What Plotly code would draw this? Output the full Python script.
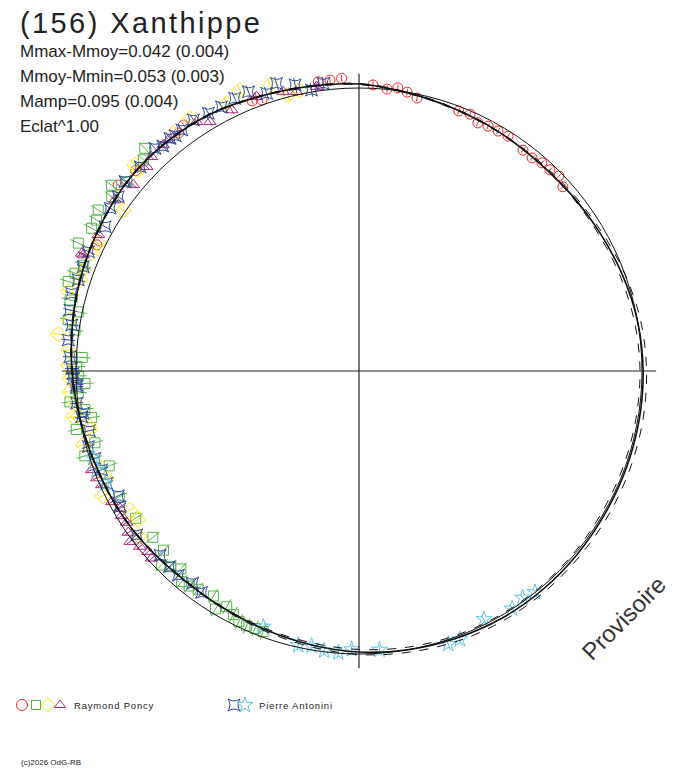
import numpy as np
import plotly.graph_objects as go

# ---------------- data (phase angle in degrees, relative radius) ----------------
# fitted light curve (solid) and its envelope (dashed)
fit_deg = [0, 10, 20, 30, 40, 50, 60, 70, 80, 90, 100, 110, 120, 130, 140, 150, 160, 170,
           180, 190, 200, 210, 220, 230, 240, 250, 260, 270, 280, 290, 300, 310, 320, 330, 340, 350]
fit_r = [1.014, 0.998, 0.986, 0.979, 0.973, 0.975, 0.981, 0.991, 1.000, 1.004, 1.005, 1.005,
         1.005, 1.007, 1.009, 1.009, 1.005, 1.000, 0.993, 0.982, 0.972, 0.965, 0.963, 0.972,
         0.981, 0.988, 1.000, 1.014, 1.027, 1.039, 1.049, 1.058, 1.057, 1.049, 1.032, 1.021]
env_hi = [1.016, 1.000, 0.988, 0.980, 0.977, 0.981, 0.988, 1.000, 1.011, 1.016, 1.018, 1.018,
          1.018, 1.018, 1.019, 1.019, 1.016, 1.009, 1.002, 0.989, 0.977, 0.968, 0.965, 0.974,
          0.983, 0.990, 1.002, 1.016, 1.029, 1.041, 1.051, 1.060, 1.059, 1.051, 1.034, 1.023]
env_lo = [1.012, 0.996, 0.984, 0.977, 0.972, 0.972, 0.975, 0.982, 0.989, 0.993, 0.993, 0.993,
          0.993, 0.995, 0.996, 0.996, 0.995, 0.991, 0.984, 0.975, 0.968, 0.963, 0.961, 0.970,
          0.979, 0.986, 0.998, 1.012, 1.025, 1.037, 1.047, 1.056, 1.055, 1.047, 1.030, 1.019]

# Raymond Poncy - session 1 (red circles)
red_deg = [2.8, 5.7, 7.8, 9.8, 12.0, 21.0, 23.4, 25.6, 27.8, 30.1, 32.4, 36.6, 39.1, 41.3, 43.5,
           45.7, 47.9, 352.0, 354.3, 356.6, 340.3, 338.4, 324.5, 322.8, 311.9, 307.7, 295.7]
red_r = [1.012, 1.001, 1.010, 1.000, 0.986, 0.984, 0.989, 0.972, 0.978, 0.980, 0.983, 0.972,
         0.970, 0.979, 0.980, 0.987, 0.971, 1.032, 1.033, 1.036, 1.017, 1.026, 1.068, 1.055,
         1.060, 1.075, 1.028]

# Raymond Poncy - session 2 (green squares)
green_deg = [316.1, 314.4, 309.2, 306.9, 305.2, 301.7, 299.9, 298.1, 294.5, 291.0, 289.0, 287.1,
             283.8, 281.9, 280.0, 278.2, 272.8, 270.9, 269.0, 267.4, 265.5, 263.9, 262.0, 260.1,
             258.3, 254.8, 252.8, 249.2, 242.3, 236.6, 231.1, 227.5, 225.5, 223.9, 222.0, 220.1,
             218.3, 216.4, 212.9, 211.1, 209.3, 207.3, 205.6, 203.8, 202.0, 200.2]
green_r = [1.092, 1.066, 1.059, 1.093, 1.069, 1.083, 1.070, 1.071, 1.090, 1.044, 1.061, 1.075,
           1.052, 1.014, 1.043, 1.014, 0.979, 0.998, 0.992, 0.969, 0.995, 1.027, 0.978, 0.959,
           1.020, 0.967, 1.014, 0.944, 0.957, 0.945, 0.936, 0.937, 0.978, 0.960, 0.941, 0.973,
           0.968, 0.958, 0.947, 0.982, 0.955, 0.968, 0.982, 0.984, 0.981, 0.981]

# Raymond Poncy - session 3 (yellow diamonds)
yellow_deg = [337.0, 342.7, 345.6, 326.2, 322.0, 333.7, 348.1, 312.6, 304.3, 296.1, 293.8, 312.3,
              290.1, 288.1, 285.3, 280.0, 277.0, 274.1, 271.2, 269.3, 265.9, 263.5, 260.8, 258.3,
              260.9, 255.0, 257.6, 250.7, 247.0, 244.0, 238.7, 236.1, 233.0, 268.5]
yellow_r = [1.078, 1.058, 1.007, 1.074, 1.066, 1.055, 1.014, 1.075, 1.008, 1.026, 1.032, 1.055,
            1.037, 1.037, 1.065, 1.037, 1.071, 1.030, 1.028, 1.016, 1.024, 1.010, 1.005, 0.971,
            1.022, 1.009, 0.973, 0.982, 0.969, 1.008, 0.947, 0.940, 0.972, 1.022]

# Raymond Poncy - session 4 (magenta triangles)
mag_deg = [334.0, 329.1, 326.9, 339.5, 344.8, 347.4, 351.5, 319.1, 313.9, 309.5, 305.0, 297.6,
           293.0, 315.9, 320.5, 292.8, 249.7, 247.8, 246.1, 242.1, 238.6, 236.9, 235.0, 233.3,
           231.3, 229.4, 227.9, 240.1]
mag_r = [1.026, 1.026, 1.051, 1.035, 1.023, 1.011, 1.016, 1.057, 1.041, 1.034, 1.053, 1.039,
         1.064, 1.054, 1.058, 1.057, 1.007, 1.001, 0.994, 0.988, 0.983, 0.980, 0.995, 1.009,
         0.992, 0.981, 0.987, 0.974]

# Pierre Antonini - session 1 (blue star-squares)
blue_deg = [344.0, 347.4, 352.9, 350.4, 341.6, 338.4, 335.5, 332.5, 329.7, 326.6, 323.7, 320.9,
            318.9, 317.5, 313.0, 309.0, 305.9, 303.2, 299.6, 293.8, 322.0, 290.7, 288.0, 285.1,
            281.9, 279.1, 276.1, 272.8, 270.5, 268.5, 266.8, 263.5, 260.6, 269.5, 267.2, 261.3,
            257.5, 254.4, 251.7, 249.0, 246.0, 242.6, 240.4, 233.6, 227.2, 224.1, 221.5, 218.1,
            215.4]
blue_r = [1.057, 1.036, 1.024, 1.007, 1.034, 1.061, 1.059, 1.052, 1.055, 1.063, 1.057, 1.059,
          1.055, 1.067, 1.058, 1.064, 1.050, 1.051, 1.032, 1.045, 1.055, 1.042, 1.043, 1.052,
          1.044, 1.028, 1.033, 1.023, 1.015, 1.010, 0.999, 1.004, 0.993, 1.010, 0.999, 0.986,
          0.976, 0.993, 0.983, 0.974, 0.976, 0.958, 0.971, 0.976, 0.958, 0.963, 0.963, 0.953,
          0.960]

# Pierre Antonini - session 2 (cyan stars)
cyan_deg = [200.5, 192.5, 189.8, 187.1, 184.2, 181.5, 175.8, 161.9, 159.4, 153.3, 147.2, 144.2,
            141.5, 251.8, 246.1, 249.3]
cyan_r = [0.965, 0.992, 0.986, 0.996, 0.998, 0.984, 0.988, 1.015, 1.013, 0.982, 0.999, 0.988,
          0.999, 0.988, 0.981, 0.991]

# radial error half-widths per session
err = {"red": 0.012, "green": 0.030, "yellow": 0.020, "magenta": 0.016, "blue": 0.024, "cyan": 0.016}

title = "(156) Xanthippe"
info_lines = ["Mmax-Mmoy=0.042 (0.004)", "Mmoy-Mmin=0.053 (0.003)",
              "Mamp=0.095 (0.004)", "Eclat^1.00"]
observers = ["Raymond Poncy", "Pierre Antonini"]
copyright_txt = "(c)2026 OdG-RB"
stamp = "Provisoire"

# ---------------- layout constants ----------------
OFF = 8                  # page body margin of the browser
W, H = 688 - OFF, 768 - OFF
CX, CY = 359 - OFF, 371 - OFF   # centre, in figure pixels
SCALE = 283.0            # pixels per unit radius
AX_LEN = 1.05            # half length of the cross-hair
FONT = "Liberation Sans, Arial, sans-serif"


def to_xy(deg, r):
    t = np.radians(np.asarray(deg, float))
    r = np.asarray(r, float)
    return r * np.sin(t), r * np.cos(t)


def radial_segments(deg, r, e):
    xs, ys = [], []
    for d, rr in zip(deg, r):
        x0, y0 = to_xy([d], [rr - e])
        x1, y1 = to_xy([d], [rr + e])
        xs += [x0[0], x1[0], None]
        ys += [y0[0], y1[0], None]
    return xs, ys


fig = go.Figure()

series = [
    ("red", red_deg, red_r, "circle-open", "#ec2a2a", 10),
    ("green", green_deg, green_r, "square-open", "#52b548", 10),
    ("yellow", yellow_deg, yellow_r, "diamond-open", "#ffe600", 12),
    ("magenta", mag_deg, mag_r, "triangle-up-open", "#b0297f", 11),
    ("blue", blue_deg, blue_r, "star-square-open", "#2f4c9f", 11),
    ("cyan", cyan_deg, cyan_r, "star-open", "#5cc5de", 12),
]

for key, d, r, sym, col, size in series:
    ex, ey = radial_segments(d, r, err[key])
    fig.add_trace(go.Scatter(x=ex, y=ey, mode="lines", line=dict(color=col, width=1),
                             hoverinfo="skip", showlegend=False))
    x, y = to_xy(d, r)
    fig.add_trace(go.Scatter(x=x, y=y, mode="markers", showlegend=False,
                             marker=dict(symbol=sym, size=size, color=col,
                                         line=dict(color=col, width=1))))

# model curves (closed)
for rr, dash, wd in [(env_hi, "dash", 1), (env_lo, "dash", 1), (fit_r, "solid", 1.6)]:
    x, y = to_xy(fit_deg + [fit_deg[0] + 360], rr + [rr[0]])
    fig.add_trace(go.Scatter(x=x, y=y, mode="lines", line=dict(color="#111", width=wd,
                             dash=dash, shape="spline", smoothing=1.0),
                             hoverinfo="skip", showlegend=False))

shapes = [
    dict(type="circle", xref="x", yref="y", x0=-1, y0=-1, x1=1, y1=1,
         line=dict(color="#111", width=1)),
    dict(type="line", xref="x", yref="y", x0=-AX_LEN, x1=AX_LEN, y0=0, y1=0,
         line=dict(color="#222", width=1.2)),
    dict(type="line", xref="x", yref="y", x0=0, x1=0, y0=-AX_LEN, y1=AX_LEN,
         line=dict(color="#222", width=1.2)),
]

# legend symbols on a pixel-based overlay axis (page pixels)
leg_syms = [("circle-open", "#ec2a2a", 22, 11), ("square-open", "#52b548", 36, 9),
            ("diamond-open", "#ffe600", 48, 11), ("triangle-up-open", "#b0297f", 60, 10),
            ("star-square-open", "#2f4c9f", 234, 11), ("star-open", "#5cc5de", 245, 12)]
for sym, col, px, sz in leg_syms:
    fig.add_trace(go.Scatter(x=[px - OFF], y=[705 - OFF], xaxis="x2", yaxis="y2", mode="markers",
                             showlegend=False, hoverinfo="skip",
                             marker=dict(symbol=sym, size=sz, color=col,
                                         line=dict(color=col, width=1))))


def spaced(text, sp):
    return '<span style="letter-spacing:%spx">%s</span>' % (sp, text)


def px_ann(text, px, py, size, **kw):
    return dict(text=text, xref="paper", yref="paper", x=(px - OFF) / W, y=1 - (py - OFF) / H,
                xanchor=kw.pop("xanchor", "left"), yanchor="middle", showarrow=False,
                font=dict(family=FONT, size=size, color=kw.pop("color", "#222")), **kw)


annotations = [px_ann(spaced(title, 2.4), 18, 23, 29)]
for i, line in enumerate(info_lines):
    annotations.append(px_ann(line, 18, 51 + 25 * i, 17))
annotations.append(px_ann(spaced(observers[0], 0.8), 72, 705, 9.5))
annotations.append(px_ann(spaced(observers[1], 0.8), 257, 705, 9.5))
annotations.append(px_ann(copyright_txt, 19, 762, 8))
annotations.append(px_ann(stamp, 623, 618, 24, xanchor="center", textangle=-45, color="#333"))

fig.update_layout(
    width=W, height=H, margin=dict(l=0, r=0, t=0, b=0),
    paper_bgcolor="white", plot_bgcolor="white", showlegend=False,
    xaxis=dict(range=[-CX / SCALE, (W - CX) / SCALE], visible=False, fixedrange=True),
    yaxis=dict(range=[-(H - CY) / SCALE, CY / SCALE], visible=False, fixedrange=True),
    xaxis2=dict(range=[0, W], overlaying="x", visible=False, fixedrange=True),
    yaxis2=dict(range=[H, 0], overlaying="y", visible=False, fixedrange=True),
    shapes=shapes, annotations=annotations,
)

fig.write_html("out.html")
